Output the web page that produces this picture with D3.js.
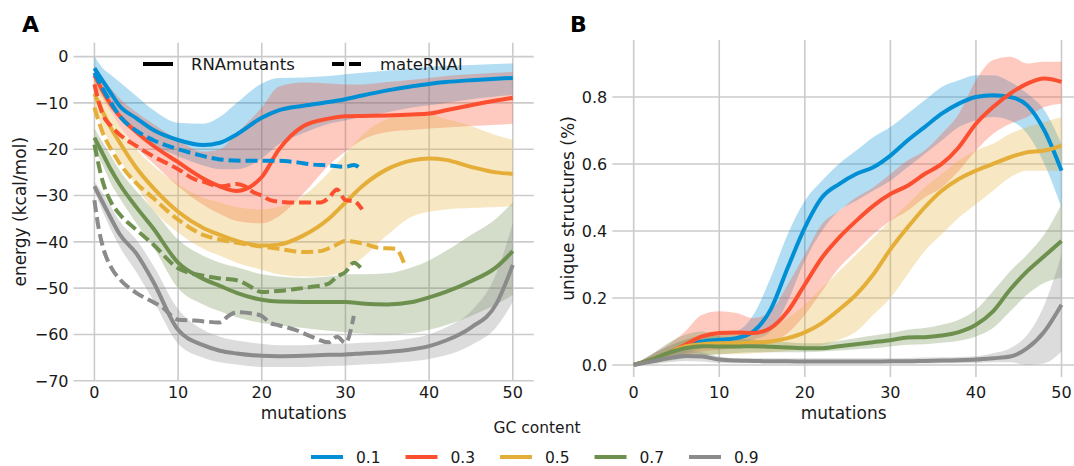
<!DOCTYPE html>
<html>
<head>
<meta charset="utf-8">
<script src="https://d3js.org/d3.v7.min.js"></script>
<style>
    body { margin: 0; background: #fff; }
    text {
        font-family: "DejaVu Sans", sans-serif;
        fill: #1a1a1a;
    }
    .grid line {
        stroke: #cbcbcb;
        stroke-width: 1.6px;
    }
    .tick-label { font-size: 16px; }
    .axis-label { font-size: 17px; }
    .legend-text { font-size: 16.5px; }
    .gc-text { font-size: 15.5px; }
    .panel-label { font-size: 22px; font-weight: bold; fill: #000; }
</style>
</head>
<body>
<svg width="1074" height="466"></svg>
<script>
    // ---- data ----
    var gcContent = ["0.1", "0.3", "0.5", "0.7", "0.9"];
    var palette = ["#008fd5", "#fc4f30", "#e5ae38", "#6d904f", "#8b8b8b"];

    var mutTicks = [0, 10, 20, 30, 40, 50];
    var energyTicks = [0, -10, -20, -30, -40, -50, -60, -70];
    var uniqueTicks = [0, 0.2, 0.4, 0.6, 0.8];

    // A: RNAmutants energy (mean and band), one row per GC content
    var mutA = [0, 1, 2, 3, 5, 7, 10, 13, 15, 17, 20, 22, 25, 28, 30, 32, 35, 38, 40, 42, 45, 48, 50];
    var energyMean = [
        [-2.5, -5.3, -8, -10.6, -13.3, -15.8, -18, -19.1, -18.6, -16.8, -13.2, -11.6, -10.6, -9.8, -9.2, -8.4, -7.3, -6.4, -5.9, -5.5, -5.1, -4.8, -4.6],
        [-4, -7.5, -10.5, -12.8, -16.3, -19.2, -22.8, -26.3, -28, -29, -26, -20.2, -15, -13.4, -12.9, -12.8, -12.7, -12.5, -12.3, -11.6, -10.5, -9.5, -8.9],
        [-8, -12, -15.5, -18.5, -24, -28.3, -33.5, -37, -38.5, -39.8, -40.8, -40.6, -38.6, -35, -31.5, -28, -24.3, -22.4, -22, -22.3, -23.8, -25, -25.3],
        [-17.5, -21, -24.5, -27.5, -32.5, -37, -44.5, -48, -49.5, -51, -52.5, -52.9, -53, -53, -53, -53.3, -53.5, -53, -52, -50.8, -48.5, -45.5, -42],
        [-28, -31.5, -35, -38.3, -42.5, -48.5, -59, -62.3, -63.5, -64.1, -64.6, -64.7, -64.6, -64.4, -64.3, -64.1, -63.8, -63.2, -62.5, -61.3, -58.5, -53.5, -45]
    ];
    var energyHi = [
        [0, -2.5, -4, -5.5, -8.5, -11.5, -14.3, -14.5, -13, -10, -5.8, -4.6, -4.5, -4.2, -3.8, -3.5, -3, -2.5, -2.2, -2, -1.8, -1.6, -1.5],
        [-2, -4.5, -7, -9, -12, -14.5, -18, -20.5, -20, -16.5, -11, -6.5, -5.6, -5.8, -6, -6, -5.5, -5, -4.6, -4.2, -3.8, -3.5, -3.3],
        [-5, -8.5, -12, -15, -20, -23.5, -27.5, -30.5, -31.5, -32.5, -33, -32.5, -30, -25, -21, -17, -13.5, -12.5, -12.5, -13.5, -15, -17, -18],
        [-15.5, -18.5, -21.5, -24.5, -29, -33, -39.5, -43, -44.5, -45.5, -47, -47.5, -47.8, -47.5, -47, -47, -46.8, -45.5, -44, -42, -38.5, -35, -31.5],
        [-27, -29.5, -32.5, -35.5, -39.5, -45, -54.5, -59, -60.5, -61.3, -62, -62.3, -62.3, -62, -62, -61.8, -61.5, -60.8, -60, -58.5, -55, -47, -36]
    ];
    var energyLo = [
        [-4, -7, -10, -12.5, -16, -19, -21.5, -23.5, -24.3, -24.3, -22, -19, -16.5, -14.5, -13.8, -13, -12, -11, -10.5, -10, -9.2, -8.6, -8.3],
        [-6, -9, -12, -15, -19.5, -23, -28, -32, -34, -35.5, -36, -34.5, -29.5, -23.5, -20.5, -18, -16.3, -15.8, -15.5, -15.3, -15, -14.7, -14.5],
        [-11, -15.5, -19, -22, -28, -33, -38, -41.5, -43, -44.5, -46, -47, -47.5, -47.3, -46, -43.5, -38.5, -34.5, -33.5, -33, -32.7, -32.5, -32.3],
        [-20, -23.5, -27.5, -30.5, -36, -41, -50, -53.5, -55, -56.3, -57.5, -58, -58.6, -59.2, -59.5, -59.8, -60, -59.7, -59, -58, -56, -53.5, -51.5],
        [-29, -33.5, -37.5, -41, -46.5, -52.5, -62, -65, -66, -66.5, -67, -67, -67, -66.8, -66.7, -66.5, -66.2, -65.8, -65.3, -64.5, -62.3, -58.5, -53]
    ];

    // A: mateRNAl energy (dashed), its own mutation steps per GC content
    var mateMut = [
        [0, 1, 2, 3, 5, 7, 10, 12, 15, 18, 20, 22, 24, 26, 28, 30, 31, 32],
        [0, 1, 2, 3, 5, 7, 10, 12, 13, 15, 16, 17, 18, 19, 20, 21, 22, 24, 26, 27, 28, 29, 30, 31, 32],
        [0, 1, 2, 3, 5, 7, 10, 13, 15, 18, 20, 22, 25, 27, 28.5, 30, 32, 34, 36, 36.5, 37],
        [0, 1, 2, 3, 5, 7, 10, 13, 15, 17, 18, 20, 22, 24, 26, 28, 29, 30, 31, 32],
        [0, 0.5, 1, 2, 3, 5, 7, 8, 10, 12, 15, 16, 17, 19, 20, 21, 22, 24, 26, 28, 29, 30, 31]
    ];
    var mateEnergy = [
        [-3.5, -7, -10, -12.8, -16, -18, -20, -21, -22.2, -22.5, -22.5, -22.5, -22.8, -23.3, -23.5, -23.8, -23.4, -24.5],
        [-6, -12.5, -15, -16.8, -19.3, -21.5, -24.3, -26.5, -27, -28, -27.8, -27.5, -28, -29.3, -30, -31, -31.3, -31.5, -31.5, -31.5, -30.5, -28.7, -31, -31.2, -33],
        [-11, -16.5, -20, -23, -27.3, -30.5, -35.2, -38.5, -39.5, -40.5, -41, -41.5, -42.2, -42, -41, -39.8, -40.3, -41.3, -41.5, -42.5, -44.6],
        [-19, -27, -31.5, -34, -37.4, -40.5, -45.7, -47.3, -47.9, -48.3, -49, -50.8, -50.6, -50.2, -49.7, -49, -47.5, -46.5, -44.5, -46],
        [-31, -37, -41, -45.5, -48, -51, -53, -54, -56.8, -57, -57.4, -56, -55.2, -55.5, -56, -57.5, -58, -59, -60.5, -61.7, -60.5, -61.8, -56]
    ];

    // B: share of unique structures (mean and band)
    var mutB = [0, 2, 4, 6, 8, 10, 12, 14, 16, 18, 20, 22, 24, 26, 28, 30, 32, 34, 36, 38, 40, 42, 44, 46, 48, 50];
    var uniqueMean = [
        [0, 0.015, 0.035, 0.055, 0.07, 0.075, 0.08, 0.1, 0.165, 0.29, 0.41, 0.5, 0.54, 0.57, 0.59, 0.625, 0.67, 0.71, 0.75, 0.78, 0.8, 0.805, 0.8, 0.775, 0.7, 0.58],
        [0, 0.015, 0.035, 0.06, 0.085, 0.095, 0.097, 0.095, 0.11, 0.16, 0.24, 0.32, 0.38, 0.43, 0.475, 0.51, 0.535, 0.57, 0.6, 0.65, 0.72, 0.77, 0.81, 0.84, 0.855, 0.845],
        [0, 0.015, 0.035, 0.055, 0.062, 0.065, 0.065, 0.067, 0.07, 0.08, 0.097, 0.125, 0.165, 0.21, 0.27, 0.345, 0.41, 0.47, 0.52, 0.555, 0.58, 0.6, 0.62, 0.635, 0.64, 0.655],
        [0, 0.015, 0.035, 0.05, 0.056, 0.055, 0.055, 0.056, 0.054, 0.052, 0.05, 0.05, 0.056, 0.062, 0.068, 0.074, 0.082, 0.083, 0.088, 0.098, 0.12, 0.16, 0.225, 0.28, 0.325, 0.37],
        [0, 0.01, 0.02, 0.027, 0.025, 0.016, 0.013, 0.012, 0.011, 0.011, 0.01, 0.01, 0.01, 0.01, 0.01, 0.011, 0.011, 0.012, 0.013, 0.014, 0.016, 0.02, 0.025, 0.05, 0.1, 0.18]
    ];
    var uniqueHi = [
        [0, 0.03, 0.055, 0.075, 0.085, 0.09, 0.1, 0.15, 0.26, 0.39, 0.49, 0.55, 0.6, 0.64, 0.68, 0.71, 0.75, 0.79, 0.83, 0.85, 0.865, 0.865, 0.845, 0.81, 0.76, 0.66],
        [0, 0.03, 0.06, 0.1, 0.15, 0.16, 0.155, 0.14, 0.16, 0.24, 0.33, 0.42, 0.46, 0.5, 0.53, 0.57, 0.61, 0.64, 0.69, 0.75, 0.85, 0.91, 0.92, 0.9, 0.905, 0.905],
        [0, 0.025, 0.05, 0.075, 0.09, 0.095, 0.1, 0.1, 0.11, 0.14, 0.18, 0.23, 0.28, 0.33, 0.38, 0.43, 0.48, 0.53, 0.57, 0.61, 0.64, 0.66, 0.69, 0.71, 0.725, 0.74],
        [0, 0.03, 0.065, 0.09, 0.1, 0.085, 0.08, 0.075, 0.072, 0.068, 0.065, 0.065, 0.072, 0.08, 0.088, 0.095, 0.105, 0.11, 0.12, 0.135, 0.165, 0.22, 0.28, 0.33, 0.39, 0.48],
        [0, 0.02, 0.035, 0.042, 0.038, 0.025, 0.02, 0.02, 0.02, 0.02, 0.02, 0.02, 0.02, 0.02, 0.02, 0.02, 0.021, 0.022, 0.023, 0.024, 0.026, 0.035, 0.05, 0.09, 0.18, 0.33]
    ];
    var uniqueLo = [
        [0, 0.005, 0.02, 0.035, 0.05, 0.06, 0.065, 0.075, 0.1, 0.19, 0.31, 0.4, 0.46, 0.49, 0.52, 0.55, 0.59, 0.63, 0.67, 0.71, 0.73, 0.74, 0.73, 0.69, 0.6, 0.47],
        [0, 0.005, 0.015, 0.03, 0.04, 0.045, 0.05, 0.055, 0.065, 0.095, 0.15, 0.22, 0.29, 0.34, 0.39, 0.43, 0.46, 0.5, 0.53, 0.58, 0.64, 0.69, 0.72, 0.74, 0.77, 0.78],
        [0, 0.005, 0.015, 0.025, 0.03, 0.032, 0.033, 0.035, 0.038, 0.042, 0.048, 0.058, 0.075, 0.1, 0.15, 0.2, 0.27, 0.34, 0.39, 0.44, 0.48, 0.52, 0.56, 0.58, 0.58, 0.58],
        [0, 0.005, 0.012, 0.02, 0.028, 0.032, 0.036, 0.038, 0.038, 0.038, 0.038, 0.04, 0.043, 0.047, 0.05, 0.055, 0.06, 0.062, 0.066, 0.072, 0.085, 0.11, 0.16, 0.21, 0.245, 0.26],
        [0, 0.002, 0.008, 0.012, 0.01, 0.006, 0.005, 0.005, 0.004, 0.004, 0.004, 0.004, 0.004, 0.004, 0.004, 0.004, 0.004, 0.004, 0.005, 0.005, 0.006, 0.008, 0.008, 0, 0.005, 0.04]
    ];

    // ---- layout ----
    var svg = d3.select("svg");

    var xA = d3.scaleLinear().domain([-2.5, 52.5]).range([73.5, 533.7]);
    var yA = d3.scaleLinear().domain([-70, 3]).range([380.8, 42.7]);
    var xB = d3.scaleLinear().domain([-2.5, 52.5]).range([612.3, 1082.9]);
    var yB = d3.scaleLinear().domain([-0.036, 0.97]).range([377, 40]);

    function drawGrid(x, y, yTicks, fmt) {
        var g = svg.append("g").attr("class", "grid");
        g.selectAll(".v").data(mutTicks).enter().append("line")
            .attr("x1", function(d) { return x(d); })
            .attr("x2", function(d) { return x(d); })
            .attr("y1", y.range()[1])
            .attr("y2", y.range()[0]);
        g.selectAll(".h").data(yTicks).enter().append("line")
            .attr("x1", x.range()[0])
            .attr("x2", x.range()[1])
            .attr("y1", function(d) { return y(d); })
            .attr("y2", function(d) { return y(d); });

        // tick labels
        svg.append("g").selectAll("text").data(mutTicks).enter().append("text")
            .attr("class", "tick-label")
            .attr("x", function(d) { return x(d); })
            .attr("y", 397.5)
            .attr("text-anchor", "middle")
            .text(function(d) { return d; });
        svg.append("g").selectAll("text").data(yTicks).enter().append("text")
            .attr("class", "tick-label")
            .attr("x", x.range()[0] - 5)
            .attr("y", function(d) { return y(d); })
            .attr("dy", "0.36em")
            .attr("text-anchor", "end")
            .text(fmt);
    }

    drawGrid(xA, yA, energyTicks, function(d) { return d < 0 ? "\u2212" + (-d) : d; });
    drawGrid(xB, yB, uniqueTicks, function(d) { return d.toFixed(1); });

    // ---- panel A ----
    var gA = svg.append("g");
    gcContent.forEach(function(gc, k) {
        var rows = mutA.map(function(m, i) {
            return { m: m, v: energyMean[k][i], lo: energyLo[k][i], hi: energyHi[k][i] };
        });
        var area = d3.area()
            .x(function(d) { return xA(d.m); })
            .y0(function(d) { return yA(d.lo); })
            .y1(function(d) { return yA(d.hi); })
            .curve(d3.curveMonotoneX);
        gA.append("path")
            .attr("d", area(rows))
            .attr("fill", palette[k])
            .attr("fill-opacity", 0.3);
    });
    gcContent.forEach(function(gc, k) {
        var rows = mutA.map(function(m, i) { return { m: m, v: energyMean[k][i] }; });
        var line = d3.line()
            .x(function(d) { return xA(d.m); })
            .y(function(d) { return yA(d.v); })
            .curve(d3.curveMonotoneX);
        gA.append("path")
            .attr("d", line(rows))
            .attr("fill", "none")
            .attr("stroke", palette[k])
            .attr("stroke-width", 4);
    });
    gcContent.forEach(function(gc, k) {
        var rows = mateMut[k].map(function(m, i) { return { m: m, v: mateEnergy[k][i] }; });
        var line = d3.line()
            .x(function(d) { return xA(d.m); })
            .y(function(d) { return yA(d.v); })
            .curve(d3.curveMonotoneX);
        gA.append("path")
            .attr("d", line(rows))
            .attr("fill", "none")
            .attr("stroke", palette[k])
            .attr("stroke-width", 4)
            .attr("stroke-dasharray", "12,5");
    });

    // ---- panel B ----
    var gB = svg.append("g");
    gcContent.forEach(function(gc, k) {
        var rows = mutB.map(function(m, i) {
            return { m: m, lo: uniqueLo[k][i], hi: uniqueHi[k][i] };
        });
        var area = d3.area()
            .x(function(d) { return xB(d.m); })
            .y0(function(d) { return yB(d.lo); })
            .y1(function(d) { return yB(d.hi); })
            .curve(d3.curveMonotoneX);
        gB.append("path")
            .attr("d", area(rows))
            .attr("fill", palette[k])
            .attr("fill-opacity", 0.3);
    });
    gcContent.forEach(function(gc, k) {
        var rows = mutB.map(function(m, i) { return { m: m, v: uniqueMean[k][i] }; });
        var line = d3.line()
            .x(function(d) { return xB(d.m); })
            .y(function(d) { return yB(d.v); })
            .curve(d3.curveMonotoneX);
        gB.append("path")
            .attr("d", line(rows))
            .attr("fill", "none")
            .attr("stroke", palette[k])
            .attr("stroke-width", 4);
    });

    // ---- labels ----
    svg.append("text").attr("class", "panel-label").attr("x", 22).attr("y", 32).text("A");
    svg.append("text").attr("class", "panel-label").attr("x", 570).attr("y", 32).text("B");

    svg.append("text").attr("class", "axis-label")
        .attr("transform", "translate(20," + (yA.range()[0] + yA.range()[1]) / 2 + ") rotate(-90)")
        .attr("text-anchor", "middle").attr("dy", "0.36em")
        .text("energy (kcal/mol)");
    svg.append("text").attr("class", "axis-label")
        .attr("transform", "translate(568," + (yB.range()[0] + yB.range()[1]) / 2 + ") rotate(-90)")
        .attr("text-anchor", "middle").attr("dy", "0.36em")
        .text("unique structures (%)");
    svg.append("text").attr("class", "axis-label")
        .attr("x", (xA.range()[0] + xA.range()[1]) / 2).attr("y", 419)
        .attr("text-anchor", "middle").text("mutations");
    svg.append("text").attr("class", "axis-label")
        .attr("x", (xB.range()[0] + xB.range()[1]) / 2 - 4).attr("y", 419)
        .attr("text-anchor", "middle").text("mutations");

    // method legend inside panel A
    var methods = [{ name: "RNAmutants", dash: null, x: 143 }, { name: "mateRNAl", dash: "12,5", x: 332 }];
    methods.forEach(function(m) {
        svg.append("line")
            .attr("x1", m.x).attr("x2", m.x + 30)
            .attr("y1", 64).attr("y2", 64)
            .attr("stroke", "#000").attr("stroke-width", 4)
            .attr("stroke-dasharray", m.dash);
        svg.append("text").attr("class", "legend-text")
            .attr("x", m.x + 48).attr("y", 64).attr("dy", "0.36em")
            .text(m.name);
    });

    // GC content legend at the bottom
    svg.append("text").attr("class", "gc-text")
        .attr("x", 537).attr("y", 433).attr("text-anchor", "middle")
        .text("GC content");
    gcContent.forEach(function(gc, k) {
        var x0 = 311 + k * 94.5;
        svg.append("line")
            .attr("x1", x0).attr("x2", x0 + 32)
            .attr("y1", 457).attr("y2", 457)
            .attr("stroke", palette[k]).attr("stroke-width", 4);
        svg.append("text").attr("class", "gc-text")
            .attr("x", x0 + 45).attr("y", 457).attr("dy", "0.36em")
            .text(gc);
    });
</script>
</body>
</html>
